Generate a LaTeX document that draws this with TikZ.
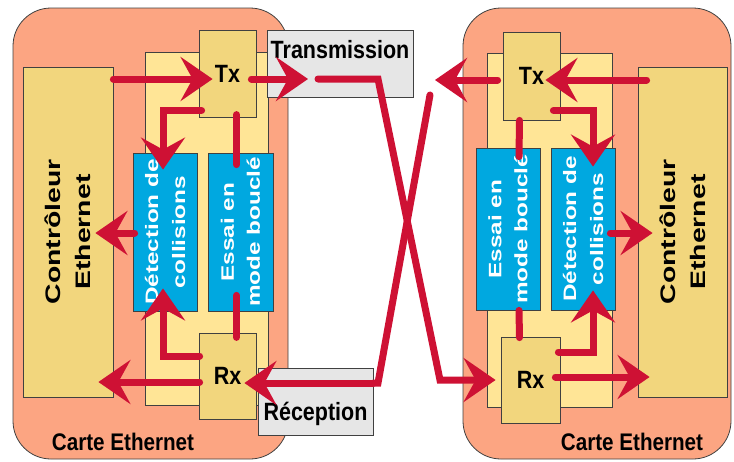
\documentclass[tikz,border=0pt]{standalone}
\usepackage{fontspec}
\setmainfont{Liberation Sans}
\newfontfamily\narrowbold[FakeStretch=0.86]{Liberation Sans Bold}
\newfontfamily\widebold[FakeStretch=1.35]{Liberation Sans Bold}
\usepackage{xcolor}
\definecolor{cardsalmon}{RGB}{252,165,130}
\definecolor{panelyellow}{RGB}{255,229,150}
\definecolor{unittan}{RGB}{242,214,125}
\definecolor{blockblue}{RGB}{0,168,224}
\definecolor{wirered}{RGB}{206,17,52}
\definecolor{taggray}{RGB}{230,230,230}
\usepackage{tikz}
\usetikzlibrary{arrows.meta,calc,positioning}

\begin{document}
\begin{tikzpicture}[x=1pt,y=-1pt]
  \tikzstyle{card}=[draw=black!75,line width=0.8pt,fill=cardsalmon,rounded corners=38pt,inner sep=0pt]
  \tikzstyle{panel}=[draw=black!75,line width=0.8pt,fill=panelyellow,inner sep=0pt]
  \tikzstyle{unit}=[draw=black!75,line width=0.8pt,fill=unittan,inner sep=0pt,font=\narrowbold\fontsize{25}{28}\selectfont]
  \tikzstyle{block}=[draw=black!75,line width=0.8pt,fill=blockblue,inner sep=0pt]
  \tikzstyle{tag}=[draw=black!75,line width=0.8pt,fill=taggray,inner xsep=0pt,inner ysep=4pt,font=\narrowbold\fontsize{25}{28}\selectfont]
  \tikzstyle{vtext}=[rotate=90,align=center,inner sep=0pt]
  \tikzstyle{cardname}=[anchor=base,inner sep=0pt,font=\narrowbold\fontsize{24}{28}\selectfont]
  \tikzstyle{wire}=[draw=wirered,line width=7pt,line cap=round]
  \tikzstyle{flow}=[wire,-{Stealth[length=32pt,width=44pt,inset=12pt]}]
  \useasboundingbox (0,0) rectangle (734,461);

  % cartes
  \node[card,minimum width=275pt,minimum height=451pt] (cardL) at (150.5,233.5) {};
  \node[card,minimum width=268pt,minimum height=451pt] (cardR) at (597,233.5) {};
  \node[cardname] (cardLname) at (123,450) {Carte Ethernet};
  \node[cardname] (cardRname) at (632,450) {Carte Ethernet};

  % circuits
  \node[panel,minimum width=123pt,minimum height=353pt] (panelL) at (206.5,228.5) {};
  \node[panel,minimum width=125pt,minimum height=354pt] (panelR) at (549.5,230) {};
  \node[unit,minimum width=90pt,minimum height=330pt] (ctlL) at (68,232) {};
  \node[unit,minimum width=89pt,minimum height=330pt] (ctlR) at (682.5,232) {};
  \node[block,minimum width=64pt,minimum height=158pt] (detL) at (165,232) {};
  \node[block,minimum width=65pt,minimum height=158pt] (essL) at (240.5,232) {};
  \node[block,minimum width=64pt,minimum height=162pt] (essR) at (508,229) {};
  \node[block,minimum width=64pt,minimum height=162pt] (detR) at (583,229) {};
  \node[unit,minimum width=57pt,minimum height=87pt] (txL) at (227.5,73.5) {Tx};
  \node[unit,minimum width=57pt,minimum height=86pt] (rxL) at (227.5,376) {Rx};
  \node[unit,minimum width=57pt,minimum height=88pt] (txR) at (531.5,76) {Tx};
  \node[unit,minimum width=59pt,minimum height=86pt] (rxR) at (530.5,380) {Rx};

  % textes verticaux
  \node[vtext,font=\widebold\fontsize{21}{30}\selectfont] (ctlLtxt) at (ctlL) {Contr\^oleur\\Ethernet};
  \node[vtext,font=\widebold\fontsize{21}{30}\selectfont] (ctlRtxt) at (ctlR) {Contr\^oleur\\Ethernet};
  \node[vtext,text=white,font=\widebold\fontsize{18}{27}\selectfont] (detLtxt) at (detL) {D\'etection de\\collisions};
  \node[vtext,text=white,font=\widebold\fontsize{18}{26}\selectfont] (essLtxt) at (essL) {Essai en\\mode boucl\'e};
  \node[vtext,text=white,font=\widebold\fontsize{18}{26}\selectfont] (essRtxt) at (essR) {Essai en\\mode boucl\'e};
  \node[vtext,text=white,font=\widebold\fontsize{18}{27}\selectfont] (detRtxt) at (detR) {D\'etection de\\collisions};

  % etiquettes
  \node[tag,minimum width=146pt,text height=24pt,text depth=35pt] (trans) at (340,63.5) {Transmission};
  \node[tag,minimum width=115pt,text height=48pt,text depth=11pt] (recep) at (315.5,401.5) {R\'eception};

  % cable croise
  \coordinate (xA0) at (308,79);
  \coordinate (xA1) at (318,79);
  \coordinate (xA2) at (378,79);
  \coordinate (xA3) at (440,380);
  \coordinate (xB0) at (435,80);
  \coordinate (xB1) at (430,95);
  \coordinate (xB2) at (378,383);

  % carte gauche
  \draw[flow] (ctlL.east |- xA0) -- ($(txL.west)+(14,5.5)$);
  \draw[flow] ($(txL.east)+(-5,5.5)$) -- (xA0);
  \draw[flow] ($(txL.south west)+(3,-7)$) -| ($(detL.north)+(-2,17)$);
  \draw[wire] ($(essL.north)+(-4,-38)$) -- ($(essL.north)+(-4,12)$);
  \draw[wire] ($(essL.south)+(-4,-16)$) -- ($(essL.south)+(-4,26)$);
  \draw[flow] ($(rxL.west)+(1,-20)$) -| ($(detL.south)+(-2,-23)$);
  \draw[flow] ($(detL.west)+(2,1)$) -- ($(ctlL.east)+(-18,1)$);
  \draw[flow] ($(rxL.west)+(1,6)$) -- ($(ctlL.east |- rxL)+(-15,6)$);
  \draw[flow] (xB2 -| recep.east) -- ($(rxL.east)+(-12,7)$);

  % carte droite
  \draw[flow] ($(ctlR.west |- txR)+(9,4)$) -- ($(txR.east)+(-15,4)$);
  \draw[flow] ($(txR.west)+(-5,4)$) -- (xB0);
  \draw[flow] ($(txR.south east)+(-7,-10)$) -| ($(detR.north)+(10,19)$);
  \draw[wire] ($(txR.south)+(-12,0)$) -- ($(essR.north)+(11,9)$);
  \draw[wire] ($(essR.south)+(11,0)$) -- ($(rxR.north)+(-11,1)$);
  \draw[flow] ($(rxR.east)+(-2,-28)$) -| ($(detR.south)+(10,-20)$);
  \draw[flow] ($(detR.east)+(-5,4)$) -- ($(ctlR.west)+(15,1)$);
  \draw[flow] ($(rxR.east)+(-5,-3)$) -- ($(ctlR.west |- rxR)+(12,-3)$);

  % croisement
  \draw[flow] (xA1) -- (xA2) -- (xA3) -- ($(rxR.west)+(-5,0)$);
  \draw[wire] (xB1) -- (xB2) -- (xB2 -| recep.east);
\end{tikzpicture}
\end{document}
